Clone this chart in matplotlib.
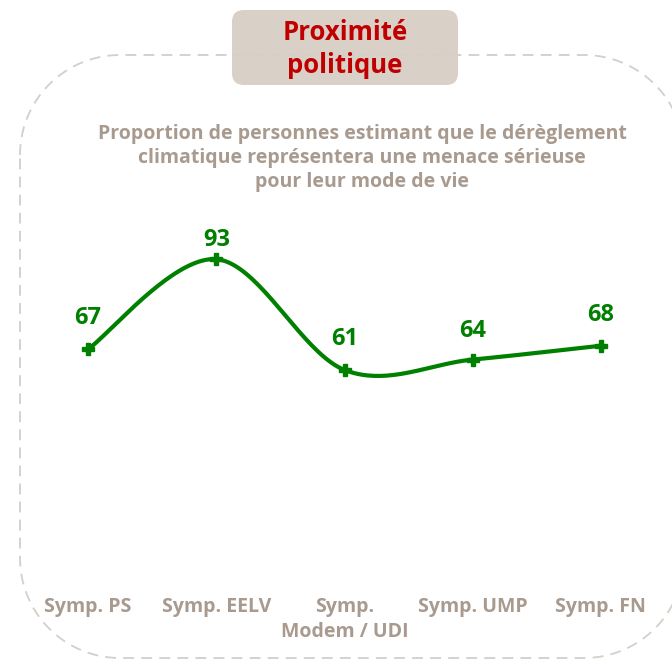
import numpy as np
import matplotlib as mpl
mpl.use('Agg')
import matplotlib.pyplot as plt
from matplotlib.patches import FancyBboxPatch

# data
categories = ['Symp. PS', 'Symp. EELV', 'Symp.\nModem / UDI', 'Symp. UMP', 'Symp. FN']
values = [67, 93, 61, 64, 68]
label_offset = [31, 19, 31, 29, 31]  # px above marker

title = 'Proximité\npolitique'
subtitle = ('Proportion de personnes estimant que le dérèglement\n'
            'climatique représentera une menace sérieuse\n'
            'pour leur mode de vie')

plt.rcParams['font.family'] = ['Open Sans', 'DejaVu Sans']
green = '#008000'
beige = '#a89a8f'

W, H = 672, 659
fig = plt.figure(figsize=(W / 100, H / 100), dpi=100)

# background layer in pixel coordinates
bg = fig.add_axes([0, 0, 1, 1])
bg.set_xlim(0, W)
bg.set_ylim(H, 0)
bg.axis('off')

# dashed rounded frame, drawn as explicit arcs
x0, y0, x1, y1, r = 20, 55, 684, 658, 100
a = np.linspace(0, np.pi / 2, 30)
fx = np.concatenate([x0 + r - r * np.cos(a), x1 - r + r * np.sin(a),
                     x1 - r + r * np.cos(a), x0 + r - r * np.sin(a), [x0]])
fy = np.concatenate([y0 + r - r * np.sin(a), y0 + r - r * np.cos(a),
                     y1 - r + r * np.sin(a), y1 - r + r * np.cos(a), [y0 + r]])
bg.plot(fx, fy, color='#d6cec7', lw=1.3, ls=(0, (6, 4)))

tbox = FancyBboxPatch((232, 10), 226, 75, boxstyle='round,pad=0,rounding_size=12',
                      fc='#d9d0c8', ec='none')
bg.add_patch(tbox)
bg.text(345, 49, title, ha='center', va='center', color='#c00000',
        fontsize=18.5, fontweight='bold', linespacing=1.3)
bg.text(362, 158, subtitle, ha='center', va='center', color=beige,
        fontsize=14, fontweight='bold', linespacing=1.3)

# chart
ax = fig.add_axes([24 / W, 1 - 581 / H, 641 / W, 346 / H])
ax.set_xlim(-0.5, len(values) - 0.5)
ax.set_ylim(0, 100)
ax.axis('off')

x = np.arange(len(values))
y = np.array(values, dtype=float)

# smoothed line (Catmull-Rom in display space, like office charts)
fig.canvas.draw()
pts = ax.transData.transform(np.column_stack([x, y]))
ext = np.vstack([pts[0], pts, pts[-1]])
curve = []
t = np.linspace(0, 1, 40)
for i in range(len(pts) - 1):
    p0, p1, p2, p3 = ext[i], ext[i + 1], ext[i + 2], ext[i + 3]
    c1 = p1 + (p2 - p0) / 6
    c2 = p2 - (p3 - p1) / 6
    seg = ((1 - t)[:, None] ** 3 * p1 + 3 * ((1 - t) ** 2 * t)[:, None] * c1
           + 3 * ((1 - t) * t ** 2)[:, None] * c2 + (t ** 3)[:, None] * p2)
    curve.append(seg)
curve = ax.transData.inverted().transform(np.vstack(curve))
ax.plot(curve[:, 0], curve[:, 1], color=green, lw=3, solid_capstyle='round', clip_on=False)
ax.plot(x, y, 'P', color=green, ms=8, clip_on=False)

for xi, yi, off in zip(x, values, label_offset):
    ax.annotate(str(yi), (xi, yi), xytext=(0, off * 0.72), textcoords='offset points',
                ha='center', va='center', color=green, fontsize=17, fontweight='bold')

for xi, lab in zip(x, categories):
    ax.annotate(lab, (xi, 0), xytext=(0, -16 * 0.72), textcoords='offset points',
                ha='center', va='top', color=beige, fontsize=14, fontweight='bold',
                linespacing=1.35)

fig.savefig('out.png', dpi=100)
